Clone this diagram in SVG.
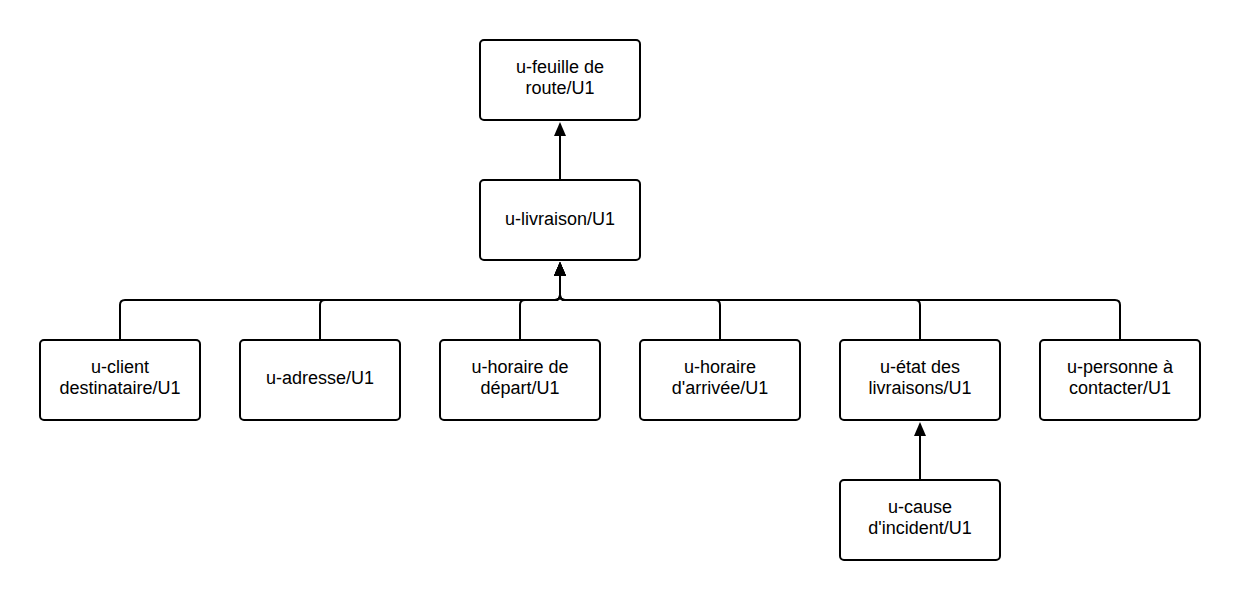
<svg xmlns="http://www.w3.org/2000/svg" width="1240" height="600" viewBox="0 0 1240 600">
<style>
.box{fill:#fff;stroke:#000;stroke-width:2}
.lbl{font-family:"Liberation Sans",Arial,sans-serif;font-size:18px;fill:#000;text-anchor:middle}
.conn{fill:none;stroke:#000;stroke-width:2}
</style>
<defs>
<marker id="arr" markerUnits="userSpaceOnUse" markerWidth="16" markerHeight="14" refX="1" refY="7" orient="auto">
<path d="M0,1 L14,7 L0,13 z" fill="#000"/>
</marker>
</defs>
<rect width="1240" height="600" fill="#fff"/>
<g id="connectors">
<path class="conn" marker-end="url(#arr)" d="M560,180 V135"/>
<path class="conn" marker-end="url(#arr)" d="M120,340 V305 Q120,300 125,300 H555 Q560,300 560,295 V275"/>
<path class="conn" marker-end="url(#arr)" d="M320,340 V305 Q320,300 325,300 H555 Q560,300 560,295 V275"/>
<path class="conn" marker-end="url(#arr)" d="M520,340 V305 Q520,300 525,300 H555 Q560,300 560,295 V275"/>
<path class="conn" marker-end="url(#arr)" d="M720,340 V305 Q720,300 715,300 H565 Q560,300 560,295 V275"/>
<path class="conn" marker-end="url(#arr)" d="M920,340 V305 Q920,300 915,300 H565 Q560,300 560,295 V275"/>
<path class="conn" marker-end="url(#arr)" d="M1120,340 V305 Q1120,300 1115,300 H565 Q560,300 560,295 V275"/>
<path class="conn" marker-end="url(#arr)" d="M920,480 V435"/>
</g>
<g id="n-feuille"><rect class="box" x="480" y="40" width="160" height="80" rx="4"/><text class="lbl" x="560" y="73">u-feuille de</text><text class="lbl" x="560" y="94">route/U1</text></g>
<g id="n-livraison"><rect class="box" x="480" y="180" width="160" height="80" rx="4"/><text class="lbl" x="560" y="225">u-livraison/U1</text></g>
<g id="n-client"><rect class="box" x="40" y="340" width="160" height="80" rx="4"/><text class="lbl" x="120" y="373">u-client</text><text class="lbl" x="120" y="394">destinataire/U1</text></g>
<g id="n-adresse"><rect class="box" x="240" y="340" width="160" height="80" rx="4"/><text class="lbl" x="320" y="384">u-adresse/U1</text></g>
<g id="n-depart"><rect class="box" x="440" y="340" width="160" height="80" rx="4"/><text class="lbl" x="520" y="373">u-horaire de</text><text class="lbl" x="520" y="394">départ/U1</text></g>
<g id="n-arrivee"><rect class="box" x="640" y="340" width="160" height="80" rx="4"/><text class="lbl" x="720" y="373">u-horaire</text><text class="lbl" x="720" y="394">d'arrivée/U1</text></g>
<g id="n-etat"><rect class="box" x="840" y="340" width="160" height="80" rx="4"/><text class="lbl" x="920" y="373">u-état des</text><text class="lbl" x="920" y="394">livraisons/U1</text></g>
<g id="n-personne"><rect class="box" x="1040" y="340" width="160" height="80" rx="4"/><text class="lbl" x="1120" y="373">u-personne à</text><text class="lbl" x="1120" y="394">contacter/U1</text></g>
<g id="n-cause"><rect class="box" x="840" y="480" width="160" height="80" rx="4"/><text class="lbl" x="920" y="513">u-cause</text><text class="lbl" x="920" y="534">d'incident/U1</text></g>
</svg>
